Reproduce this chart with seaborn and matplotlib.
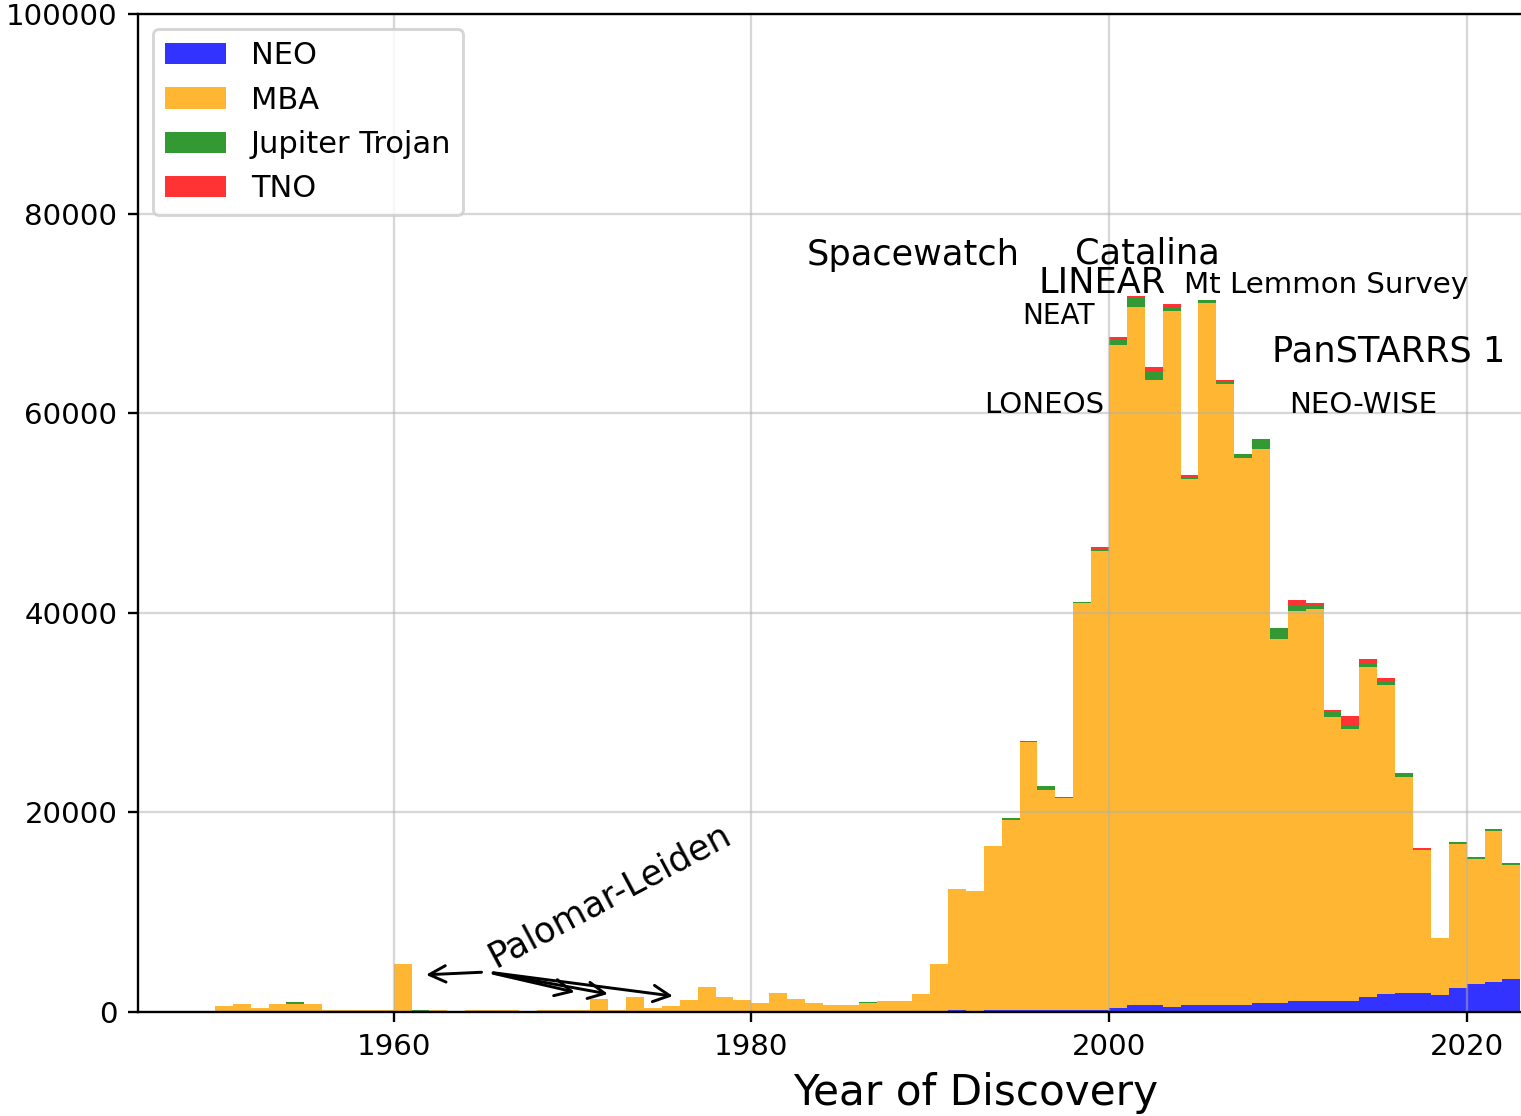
import numpy as np
import pandas as pd
import matplotlib
matplotlib.use("Agg")
import matplotlib.pyplot as plt
import matplotlib.patches as mpatches
from matplotlib.colors import to_rgba
import seaborn as sns

# Discovery year of each yearly bin (1950 .. 2022)
years = list(range(1950, 2023))

# Number of discoveries per year, by dynamical class
neo = [0, 0, 0, 0, 0, 0, 0, 0, 0, 0,
       0, 0, 0, 0, 0, 0, 0, 30, 0, 0,
       0, 0, 0, 0, 0, 0, 0, 0, 0, 0,
       0, 0, 0, 0, 0, 0, 0, 0, 0, 0,
       0, 220, 60, 220, 220, 220, 220, 220, 230, 230,
       430, 670, 670, 500, 670, 670, 670, 670, 900, 900,
       1100, 1100, 1100, 1100, 1530, 1760, 1930, 1930, 1730, 2400,
       2830, 3030, 3260]

mba = [640, 840, 400, 840, 840, 840, 170, 170, 170, 170,
       4800, 20, 170, 20, 170, 170, 170, 20, 170, 170,
       170, 1270, 170, 1500, 400, 640, 1220, 2550, 1480, 1220,
       870, 1940, 1340, 870, 700, 700, 900, 1100, 1100, 1770,
       4780, 12080, 12030, 16430, 19030, 26830, 22060, 21230, 40720, 45940,
       66410, 69930, 62660, 69720, 52730, 70360, 62240, 54850, 55480, 36470,
       39050, 39300, 28470, 27220, 33010, 31040, 21650, 14260, 5700, 14450,
       12520, 15120, 11430]

trojan = [0, 0, 0, 0, 180, 0, 0, 0, 0, 0,
          0, 180, 0, 0, 0, 0, 0, 0, 0, 0,
          0, 0, 0, 0, 0, 0, 0, 0, 0, 0,
          0, 0, 0, 0, 0, 0, 150, 0, 0, 0,
          0, 0, 0, 0, 150, 150, 400, 130, 150, 230,
          600, 900, 870, 450, 230, 270, 270, 430, 1070, 1130,
          670, 400, 500, 430, 430, 370, 230, 30, 0, 230,
          200, 200, 200]

tno = [0] * 49 + [150,
       200, 200, 400, 230, 170, 0, 170, 0, 0, 0,
       430, 200, 230, 900, 430, 300, 170, 200, 0, 0,
       0, 0, 0]

classes = ["NEO", "MBA", "Jupiter Trojan", "TNO"]
colors = ["blue", "orange", "green", "red"]

# Labelled surveys: name, year, count, font size
surveys = ["Spacewatch", "Catalina", "LINEAR", "Mt Lemmon Survey", "NEAT",
           "LONEOS", "PanSTARRS 1", "NEO-WISE"]
survey_x = [1989.03, 2002.14, 1999.6, 2012.15, 1997.16, 1996.38, 2015.62, 2014.22]
survey_y = [74850, 75000, 72000, 72000, 68950, 60050, 65200, 60050]
survey_size = [12, 12, 12, 10, 9.5, 10, 12, 10]

# Palomar-Leiden survey and its Trojan follow-ups
pl_text_xy = (1965.7, 4500)
pl_tail = (1965.24, 4010)
pl_heads = [(1961.48, 3700), (1970.44, 1860), (1972.3, 1700), (1975.94, 1520)]

df = pd.DataFrame({
    "year": years * 4,
    "count": neo + mba + trojan + tno,
    "class": (["NEO"] * len(years) + ["MBA"] * len(years)
              + ["Jupiter Trojan"] * len(years) + ["TNO"] * len(years)),
})

palette = dict(zip(classes, colors))
bins = list(range(1950, 2024))

fig = plt.figure(figsize=(1521 / 211, 1116 / 211), dpi=211)
# the axes run past the right edge of the canvas
ax = fig.add_axes([0.0907, 0.0932, 1.1019, 0.8943])

# seaborn stacks the last hue level at the bottom
sns.histplot(data=df, x="year", weights="count", hue="class",
             hue_order=classes[::-1], palette=palette, bins=bins,
             multiple="stack", element="step", alpha=0.8, linewidth=0,
             legend=False, ax=ax)

ax.set_xlim(1945.7, 2039.42)
ax.set_ylim(0, 100000)
ax.set_xticks([1960, 1980, 2000, 2020])
ax.set_yticks(np.arange(0, 100001, 20000))
ax.grid(True, color="#b0b0b0", alpha=0.5, linewidth=0.8)
ax.set_xlabel("Year of Discovery", fontsize=14.4)
ax.set_ylabel("")

for name, x, y, s in zip(surveys, survey_x, survey_y, survey_size):
    ax.text(x, y, name, ha="center", va="baseline", fontsize=s)

ax.text(pl_text_xy[0], pl_text_xy[1], "Palomar-Leiden", fontsize=12,
        rotation=28, rotation_mode="anchor", ha="left", va="baseline")
for head in pl_heads:
    ax.annotate("", xy=head, xytext=pl_tail,
                arrowprops=dict(arrowstyle="->", color="black", lw=1.0,
                                mutation_scale=14))

handles = [mpatches.Patch(facecolor=to_rgba(c, 0.8), edgecolor="none", label=n)
           for n, c in zip(classes, colors)]
ax.legend(handles=handles, loc="upper left", fontsize=10.4)

fig.savefig("out.png", dpi=211)
